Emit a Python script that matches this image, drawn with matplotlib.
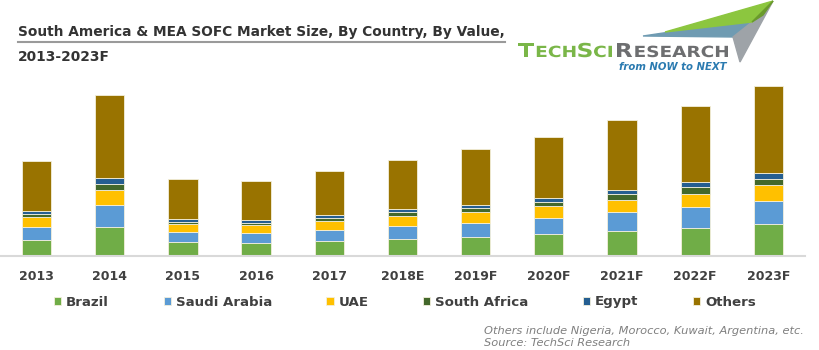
import matplotlib
matplotlib.use("Agg")
import matplotlib.pyplot as plt
from matplotlib.patches import Polygon, PathPatch
from matplotlib.textpath import TextPath
from matplotlib.font_manager import FontProperties
from matplotlib.transforms import Affine2D
import numpy as np

years = ["2013", "2014", "2015", "2016", "2017", "2018E",
         "2019F", "2020F", "2021F", "2022F", "2023F"]
brazil = [16, 29.3, 13.7, 12.7, 14.7, 17, 19.3, 22, 25.3, 28, 32]
saudi = [13.3, 21.4, 10, 10.3, 11.6, 13.3, 14, 16.3, 18.4, 20.7, 23.3]
uae = [9.4, 15, 8, 7.7, 8.4, 9.7, 10.7, 11.4, 12.3, 13.6, 15.7]
south_africa = [3, 6.6, 2.6, 2.3, 3, 3.7, 3.7, 4.3, 6, 6.4, 6]
egypt = [3.3, 5.4, 3, 3, 3, 3.3, 3.6, 4.3, 4, 5, 6]
others = [49.7, 83.6, 39.7, 39.3, 44, 49, 55.4, 60.7, 69.7, 76.3, 87]

series = [("Brazil", brazil, "#70AD47"),
          ("Saudi Arabia", saudi, "#5B9BD5"),
          ("UAE", uae, "#FFC000"),
          ("South Africa", south_africa, "#43682B"),
          ("Egypt", egypt, "#255E91"),
          ("Others", others, "#997300")]

W, H = 820, 350
fig = plt.figure(figsize=(W / 100, H / 100), dpi=100)

# plot area: baseline at y=256px, axis from x=0 to 805px
ax = fig.add_axes([0, (H - 256) / H, 805 / W, 180 / H])
x = np.arange(len(years))
bottom = np.zeros(len(years))
handles = []
for name, vals, col in series:
    b = ax.bar(x, vals, 0.40, bottom=bottom, color=col, label=name,
               edgecolor="#f3efdc", linewidth=0.6)
    handles.append(b)
    bottom += np.array(vals)

ax.set_xlim(-0.5, 10.5)
ax.set_ylim(0, 180)
for s in ["top", "right", "left"]:
    ax.spines[s].set_visible(False)
ax.spines["bottom"].set_color("#d9d9d9")
ax.spines["bottom"].set_linewidth(1.5)
ax.set_yticks([])
ax.set_xticks(x)
ax.set_xticklabels(years, fontsize=9, fontweight="bold", color="#404040")
ax.tick_params(axis="x", length=0, pad=10)

# legend
fig.legend(handles=handles, loc="center left",
           bbox_to_anchor=(54 / W, (H - 302) / H), ncol=6, frameon=False,
           prop={"size": 9.6, "weight": "bold"}, labelcolor="#404040",
           handlelength=0.55, handleheight=0.55, handletextpad=0.35,
           columnspacing=4.1, borderpad=0, borderaxespad=0)

# title
fig.text(18 / W, (H - 32) / H,
         "South America & MEA SOFC Market Size, By Country, By Value,",
         fontsize=9.9, fontweight="bold", color="#333333", va="center")
fig.add_artist(plt.Line2D([18 / W, 505 / W], [(H - 42) / H] * 2,
                          color="#9a9a9a", lw=1.5))
fig.text(18 / W, (H - 57) / H, "2013-2023F",
         fontsize=9.9, fontweight="bold", color="#333333", va="center")

# footnote
fig.text(484 / W, (H - 331) / H,
         "Others include Nigeria, Morocco, Kuwait, Argentina, etc.",
         fontsize=8.2, style="italic", color="#7f7f7f", va="center")
fig.text(484 / W, (H - 343) / H, "Source: TechSci Research",
         fontsize=8.2, style="italic", color="#7f7f7f", va="center")

# logo: paper plane
def px(pts):
    return [(a / W, (H - b) / H) for a, b in pts]

fig.add_artist(Polygon(px([(643, 36), (690, 29), (752, 22), (733, 37)]),
                       closed=True, color="#6f9bb2", transform=fig.transFigure))
fig.add_artist(Polygon(px([(752, 22), (773, 1), (740, 62), (733, 37)]),
                       closed=True, color="#9ea3a8", transform=fig.transFigure))
fig.add_artist(Polygon(px([(665, 32), (773, 1), (752, 22)]),
                       closed=True, color="#8cc63f", transform=fig.transFigure))
fig.add_artist(Polygon(px([(752, 22), (773, 1), (763, 15)]),
                       closed=True, color="#6a9a2c", transform=fig.transFigure))

# logo: small-caps wordmark fitted to its box
prop = FontProperties(family="DejaVu Sans", weight="bold")


def wordmark(parts, x0, x1, base, cap_h, color):
    paths = []
    xoff = 0
    for txt, sz in parts:
        tp = TextPath((xoff, 0), txt, size=sz, prop=prop)
        paths.append(tp)
        xoff = tp.get_extents().x1 + sz * 0.06
    left = paths[0].get_extents().x0
    right = paths[-1].get_extents().x1
    sx = (x1 - x0) / (right - left)
    sy = cap_h / (parts[0][1] * 0.73)
    tr = Affine2D().translate(-left, 0).scale(sx, sy).translate(x0, H - base)
    for tp in paths:
        fig.add_artist(PathPatch(tp, transform=tr, color=color, lw=0))


wordmark([("T", 10), ("ECH", 8), ("S", 10), ("CI", 8)],
         518, 612, 57, 14, "#7ab648")
wordmark([("R", 10), ("ESEARCH", 8)], 617, 728, 57, 14, "#6d6e70")
fig.text(727 / W, (H - 67) / H, "from NOW to NEXT", fontsize=7.3,
         style="italic", fontweight="bold", color="#2a7ab0",
         ha="right", va="center")

fig.savefig("out.png", dpi=100)
